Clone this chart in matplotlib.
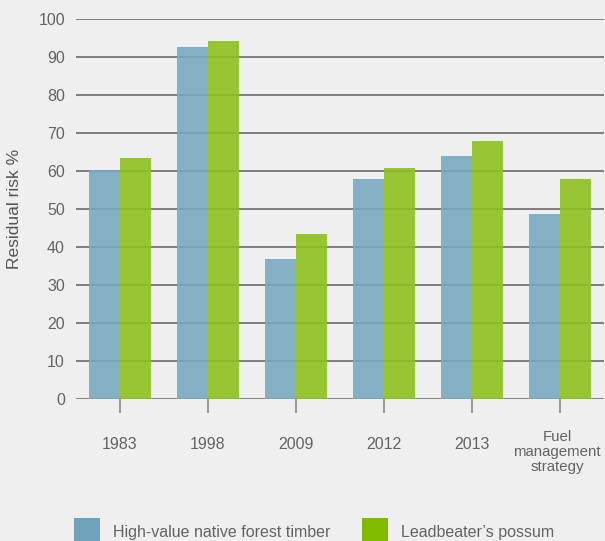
import matplotlib
matplotlib.use("Agg")
import matplotlib.pyplot as plt
import matplotlib.transforms as mtransforms
from matplotlib.patches import Rectangle
import numpy as np

categories = ["1983", "1998", "2009", "2012", "2013", "Fuel\nmanagement\nstrategy"]
timber = [60.3, 92.6, 36.8, 58.0, 64.0, 48.6]
possum = [63.3, 94.2, 43.3, 60.9, 67.9, 57.8]
series_names = ["High-value native forest timber", "Leadbeater\u2019s possum"]
yticks = [0, 10, 20, 30, 40, 50, 60, 70, 80, 90, 100]

plt.rcParams['font.family'] = ['Liberation Sans', 'DejaVu Sans']
BG = "#efefef"
TXT = "#636363"
FS = 11.5

fig = plt.figure(figsize=(6.05, 5.41), dpi=100, facecolor=BG)
ax = fig.add_axes([76/605, 1-399/541, 528/605, 380/541], facecolor=BG)

x = np.arange(len(categories))
w = 0.35
ax.bar(x - w/2, timber, width=w, color="#78a9bf", alpha=0.9, zorder=2, linewidth=0)
ax.bar(x + w/2, possum, width=w, color="#8ec01d", alpha=0.9, zorder=2, linewidth=0)

ax.set_xlim(-0.5, len(categories) - 0.5)
ax.set_ylim(0, 100)
ax.set_yticks(yticks)
ax.yaxis.grid(True, color="#6a6a6a", linewidth=1.2, zorder=1)
ax.set_axisbelow(True)
for s in ax.spines.values():
    s.set_visible(False)
ax.axhline(0, color="#8a8a8a", linewidth=1.5, zorder=1)

ax.tick_params(axis='y', length=0, pad=8, labelsize=FS, labelcolor=TXT)
ax.tick_params(axis='x', length=10, width=1.2, color="#8a8a8a", pad=12,
               labelsize=FS, labelcolor=TXT)
ax.set_xticks(x)
ax.set_xticklabels(categories, linespacing=1.1)
for lab in ax.get_xticklabels():
    if "\n" not in lab.get_text():
        lab.set_transform(lab.get_transform() +
                          mtransforms.ScaledTranslation(0, -7/100, fig.dpi_scale_trans))
    else:
        lab.set_fontsize(10.8)
        lab.set_transform(lab.get_transform() +
                          mtransforms.ScaledTranslation(-3/100, 0, fig.dpi_scale_trans))
ticklines = ax.get_xticklines()
ticklines[-2].set_color("#333333")

ax.set_ylabel("Residual risk %", fontsize=12.5, color="#555555", labelpad=12)

# legend
legend_colors = ["#6fa3b9", "#80bb00"]
lx = [74, 362]
for xi, c, name in zip(lx, legend_colors, series_names):
    fig.patches.append(Rectangle((xi/605, 0), 26/605, 23/541, transform=fig.transFigure,
                                 facecolor=c, edgecolor='none'))
    fig.text((xi + 39)/605, 1 - 533/541, name, fontsize=FS, color=TXT, va='center')

fig.savefig("out.png", dpi=100, facecolor=BG)
